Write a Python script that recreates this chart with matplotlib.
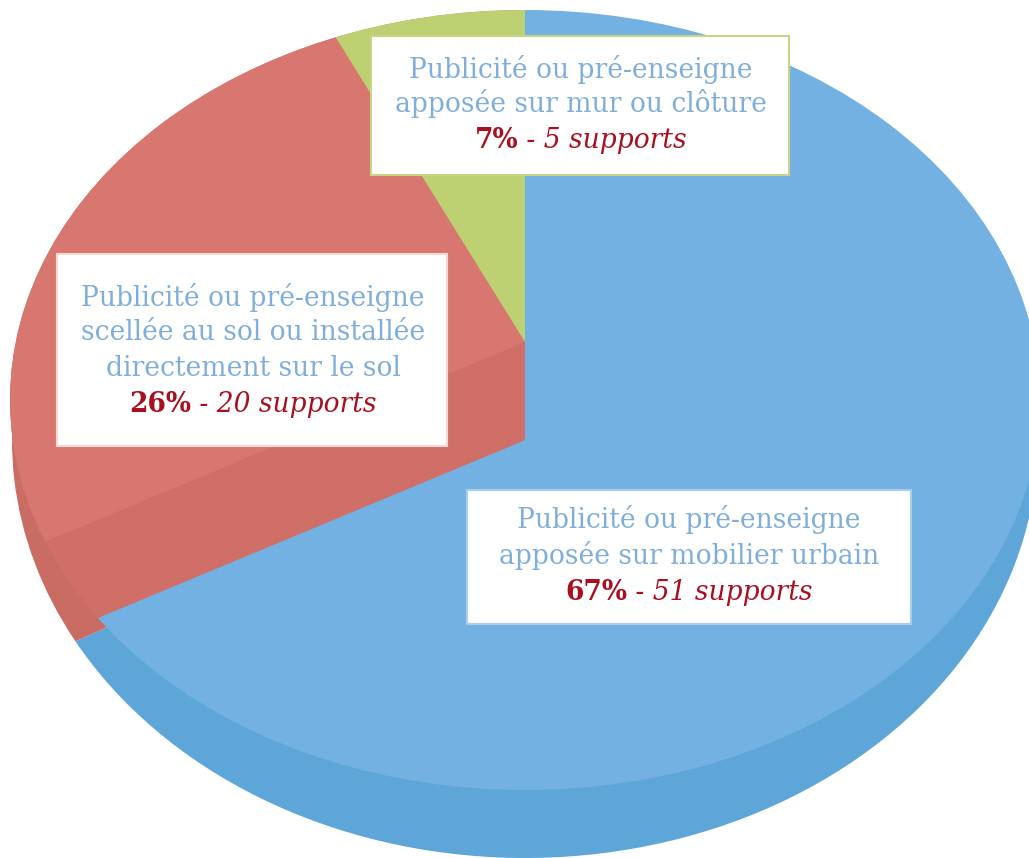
"""Répartition des supports publicitaires par type, camembert avec effet de relief."""
import matplotlib
matplotlib.use('Agg')
import matplotlib.pyplot as plt
from matplotlib.patches import Circle, Rectangle

# Data
categories = [
    ['Publicité ou pré-enseigne', 'apposée sur mobilier urbain'],
    ['Publicité ou pré-enseigne', 'scellée au sol ou installée', 'directement sur le sol'],
    ['Publicité ou pré-enseigne', 'apposée sur mur ou clôture'],
]
percents = [67, 26, 7]
supports = [51, 20, 5]

W, H = 1029, 858
BLUE = '#74b1e3'
RED = '#d8776f'
RED_SIDE = '#cf6f68'
GREEN = '#bdd072'
TEXT_BLUE = '#80aedb'
TEXT_RED = '#a81020'
SERIF = ['DejaVu Serif']
FONT_SIZE = 19.1

fig = plt.figure(figsize=(W / 100, H / 100), dpi=100)


def ellipse_axes(cx, cy, rx, ry):
    """Axes whose unit circle lands on the given ellipse (pixels)."""
    return fig.add_axes([(cx - rx) / W, 1 - (cy + ry) / H, 2 * rx / W, 2 * ry / H])


def draw_pie(ax, colors, center=(0, 0), radius=1, clip=False):
    wedges, _ = ax.pie(percents, colors=colors, startangle=90, counterclock=False,
                       center=center, radius=radius, wedgeprops={'linewidth': 0})
    if clip:
        # pie() turns clipping off on its wedges
        for w in wedges:
            w.set_clip_on(True)
            w.set_clip_path(Circle((0, 0), 1, transform=ax.transData))
    ax.set_aspect('auto')
    ax.set_xlim(-1, 1)
    ax.set_ylim(-1, 1)
    ax.axis('off')


# Rim of the disc
rim = ellipse_axes(525, 440, 513, 418)
draw_pie(rim, ['#5fa6d8', '#c96c63', '#a9bd62'])

# Top face: the blue slice sits lower than the raised red and green slices
top = ellipse_axes(525, 400, 515, 390)
draw_pie(top, [BLUE, RED_SIDE, RED_SIDE], center=(0, -40 / 390), radius=2, clip=True)
draw_pie(top, ['none', RED, GREEN], center=(0, 58 / 390), radius=2, clip=True)

# Label boxes, drawn in pixel coordinates
ax = fig.add_axes([0, 0, 1, 1])
ax.set_xlim(0, W)
ax.set_ylim(H, 0)
ax.axis('off')
ax.patch.set_alpha(0)

boxes = [(467, 490, 444, 134, '#a9cdea'), (57, 254, 390, 192, '#f3d9d4'), (371, 36, 418, 139, '#c6d483')]
line_ys = [[520, 555, 593], [297, 332, 368, 404], [69, 104, 141]]
centers = [689, 253, 581]
renderer = fig.canvas.get_renderer()

for i, (x, y, w, h, edge) in enumerate(boxes):
    ax.add_patch(Rectangle((x, y), w, h, facecolor='white', edgecolor=edge, linewidth=1.5))
    for j, line in enumerate(categories[i]):
        ax.text(centers[i], line_ys[i][j], line, ha='center', va='center', color=TEXT_BLUE,
                fontsize=FONT_SIZE, family=SERIF)
    # Last line: bold percentage followed by the italic count, centred together
    bold = ax.text(0, line_ys[i][-1], str(percents[i]) + '%', ha='left', va='center',
                   color=TEXT_RED, fontsize=FONT_SIZE, fontweight='bold', family=SERIF)
    ital = ax.text(0, line_ys[i][-1], ' - ' + str(supports[i]) + ' supports', ha='left', va='center',
                   color=TEXT_RED, fontsize=FONT_SIZE, fontstyle='italic', family=SERIF)
    bw = bold.get_window_extent(renderer).width
    iw = ital.get_window_extent(renderer).width
    x0 = centers[i] - (bw + iw) / 2
    bold.set_x(x0)
    ital.set_x(x0 + bw)

fig.savefig('out.png', dpi=100)
